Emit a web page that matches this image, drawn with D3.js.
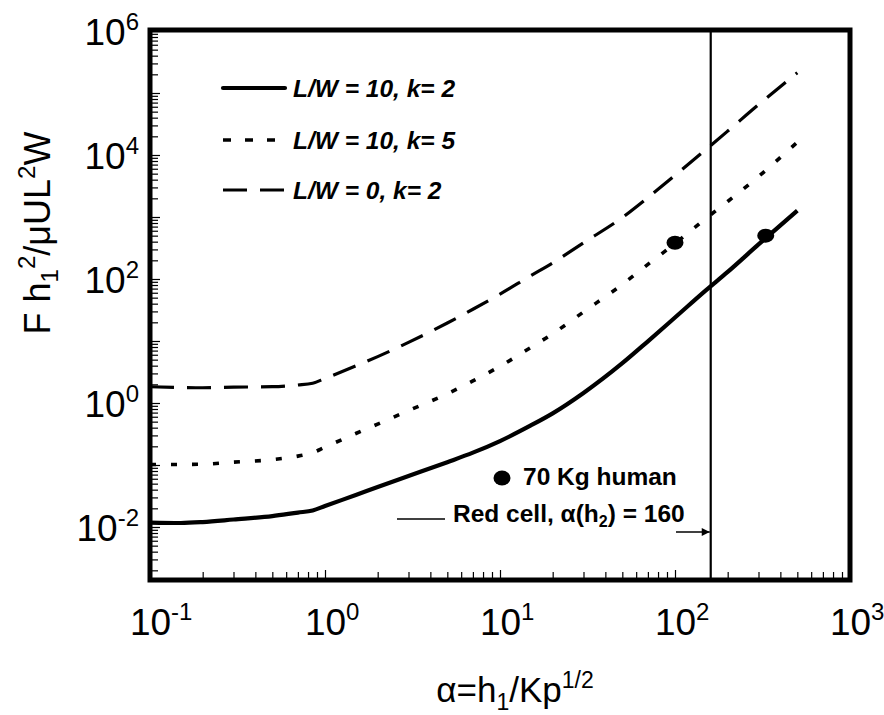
<!DOCTYPE html>
<html>
<head>
<meta charset="utf-8">
<script src="https://cdn.jsdelivr.net/npm/d3@7"></script>
<style>
  body { margin: 0; background: #fff; }
  text { font-family: "Liberation Sans", Arial, Helvetica, sans-serif; fill: #000; }
</style>
</head>
<body>
<svg id="chart" width="884" height="715"></svg>
<script>
// Dimensionless parameter alpha = h1 / Kp^(1/2), shared by all three curves
const alpha = [0.1, 0.15, 0.2, 0.3, 0.5, 0.7, 0.85, 1, 1.5, 2, 3, 5, 7, 10, 15, 20, 30, 50, 70, 100, 150, 200, 300, 500];

// Normalised load F h1^2 / (mu U L^2 W)
const loadLW10k2 = [0.0118, 0.0116, 0.0120, 0.0132, 0.0150, 0.0171, 0.0184, 0.0218, 0.0328, 0.0441, 0.0663, 0.111, 0.158, 0.243, 0.434, 0.680, 1.45, 4.38, 9.89, 23.9, 65.5, 130, 361, 1270];
const loadLW10k5 = [0.102, 0.102, 0.103, 0.111, 0.122, 0.139, 0.158, 0.194, 0.322, 0.456, 0.754, 1.41, 2.27, 3.91, 7.86, 13.1, 29.4, 81.8, 172, 374, 946, 1780, 4490, 16100];
const loadLW0k2  = [1.83, 1.78, 1.76, 1.80, 1.83, 1.95, 2.08, 2.49, 3.96, 5.59, 9.50, 19.5, 32.5, 57.1, 113, 182, 383, 981, 2060, 4710, 12200, 24300, 64800, 212000];

const seriesNames = ["L/W = 10, k= 2", "L/W = 10, k= 5", "L/W = 0, k= 2"];

// 70 kg human operating points
const humanAlpha = [100, 330];
const humanLoad  = [385, 500];

// Red cell, alpha(h2)
const redCellAlpha = 160;

const xTickExponents = [-1, 0, 1, 2, 3];
const yTickExponents = [-2, 0, 2, 4, 6];

const svg = d3.select("#chart");
svg.append("rect").attr("width", 884).attr("height", 715).attr("fill", "#fff");

const plotLeft = 150, plotRight = 850, plotTop = 30, plotBottom = 580;

const x = d3.scaleLog().domain([0.1, 1000]).range([plotLeft, plotRight]);
const y = d3.scaleLog().domain([Math.pow(10, -2.855), Math.pow(10, 6.016)]).range([plotBottom, plotTop]);

// ---- minor / major tick values ----
function logTicks(lo, hi) {
  const major = [], minor = [];
  for (let e = lo; e <= hi; e++) {
    major.push(Math.pow(10, e));
    for (let m = 2; m <= 9; m++) minor.push(m * Math.pow(10, e));
  }
  return { major, minor };
}
const xt = logTicks(-1, 3);
const yt = logTicks(-3, 6);
const inX = v => v >= 0.1 * 0.999 && v <= 1000 * 1.001;
const [yLo, yHi] = y.domain();
const inY = v => v >= yLo && v <= yHi * 1.0001;

function supLabel(sel, fontSize, supSize, centerDigits) {
  sel.each(function (d) {
    const t = d3.select(this);
    const e = Math.round(Math.log10(d));
    t.text(null);
    const base = t.append("tspan").text("10");
    t.append("tspan").attr("dy", "-0.62em").attr("font-size", supSize + "px").text(e);
    if (centerDigits) {
      const w = base.node().getComputedTextLength();
      t.attr("text-anchor", "start").attr("x", -w / 2);
    }
  });
}

// x axis: minor ticks
svg.append("g")
  .attr("transform", `translate(0,${plotBottom})`)
  .call(d3.axisBottom(x).tickValues(xt.minor.filter(inX)).tickSize(-8).tickFormat(""))
  .call(g => g.select(".domain").remove())
  .call(g => g.selectAll("line").attr("stroke", "#000").attr("stroke-width", 1.2));

// x axis: decades with labels
svg.append("g")
  .attr("transform", `translate(0,${plotBottom})`)
  .call(d3.axisBottom(x).tickValues(xTickExponents.map(e => Math.pow(10, e))).tickSize(-10).tickPadding(0))
  .call(g => g.select(".domain").remove())
  .call(g => g.selectAll("line").attr("stroke", "#000").attr("stroke-width", 1.2))
  .call(g => g.selectAll("text")
    .attr("y", 42).attr("dy", "0.36em")
    .attr("font-size", "37px").attr("font-family", "Liberation Sans, Arial, sans-serif")
    .call(supLabel, 37, 24, true));

// y axis: minor ticks
svg.append("g")
  .attr("transform", `translate(${plotLeft},0)`)
  .call(d3.axisLeft(y).tickValues(yt.minor.filter(inY)).tickSize(-8).tickFormat(""))
  .call(g => g.select(".domain").remove())
  .call(g => g.selectAll("line").attr("stroke", "#000").attr("stroke-width", 1.2));

// y axis: decades, labelled every second decade
svg.append("g")
  .attr("transform", `translate(${plotLeft},0)`)
  .call(d3.axisLeft(y).tickValues(yt.major.filter(inY)).tickSize(-10).tickPadding(11)
    .tickFormat(d => yTickExponents.includes(Math.round(Math.log10(d))) ? "10" : ""))
  .call(g => g.select(".domain").remove())
  .call(g => g.selectAll("line").attr("stroke", "#000").attr("stroke-width", 1.2))
  .call(g => g.selectAll("text")
    .filter(d => yTickExponents.includes(Math.round(Math.log10(d))))
    .attr("dy", "0.36em")
    .attr("font-size", "37px").attr("font-family", "Liberation Sans, Arial, sans-serif")
    .call(supLabel, 37, 24, false));

// ---- curves ----
const line = d3.line()
  .x(d => x(d[0]))
  .y(d => y(d[1]))
  .curve(d3.curveMonotoneX);

const curves = [
  { load: loadLW10k2, width: 4.2, dash: null },
  { load: loadLW10k5, width: 3.6, dash: "6,15" },
  { load: loadLW0k2,  width: 3.2, dash: "24,13" }
];

const plot = svg.append("g");
curves.forEach(c => {
  plot.append("path")
    .datum(alpha.map((a, i) => [a, c.load[i]]))
    .attr("d", line)
    .attr("fill", "none")
    .attr("stroke", "#000")
    .attr("stroke-width", c.width)
    .attr("stroke-dasharray", c.dash);
});

// red cell line
plot.append("line")
  .attr("x1", x(redCellAlpha)).attr("x2", x(redCellAlpha))
  .attr("y1", plotTop).attr("y2", plotBottom)
  .attr("stroke", "#000").attr("stroke-width", 2.2);

// human points
plot.selectAll("ellipse.human")
  .data(humanAlpha.map((a, i) => [a, humanLoad[i]]))
  .join("ellipse")
  .attr("class", "human")
  .attr("cx", d => x(d[0])).attr("cy", d => y(d[1]))
  .attr("rx", 8.5).attr("ry", 7).attr("fill", "#000");

// ---- frame ----
svg.append("rect")
  .attr("x", plotLeft).attr("y", plotTop)
  .attr("width", plotRight - plotLeft).attr("height", plotBottom - plotTop)
  .attr("fill", "none").attr("stroke", "#000").attr("stroke-width", 5);

// ---- legend ----
const legend = svg.append("g");
const legRows = [88, 140, 190];
curves.forEach((c, i) => {
  legend.append("line")
    .attr("x1", 223).attr("x2", i === 1 ? 276 : 285)
    .attr("y1", legRows[i]).attr("y2", legRows[i])
    .attr("stroke", "#000").attr("stroke-width", c.width)
    .attr("stroke-dasharray", i === 1 ? "8,14" : c.dash)
    .attr("stroke-linecap", i === 0 ? "round" : "butt");
  legend.append("text")
    .attr("x", 293).attr("y", legRows[i] + 8.5)
    .attr("font-size", "24.5px").attr("font-weight", "bold").attr("font-style", "italic")
    .text(seriesNames[i]);
});

// ---- annotations ----
const ann = svg.append("g");
ann.append("ellipse").attr("cx", 502).attr("cy", 478).attr("rx", 8.5).attr("ry", 7.5).attr("fill", "#000");
ann.append("text").attr("x", 523).attr("y", 485)
  .attr("font-size", "24.5px").attr("font-weight", "bold").text("70 Kg human");

ann.append("line").attr("x1", 397).attr("x2", 445).attr("y1", 519).attr("y2", 519)
  .attr("stroke", "#000").attr("stroke-width", 1.5);
const rc = ann.append("text").attr("x", 453).attr("y", 522)
  .attr("font-size", "24.5px").attr("font-weight", "bold");
rc.append("tspan").text("Red cell, α(h");
rc.append("tspan").attr("font-size", "16px").attr("dy", "5").text("2");
rc.append("tspan").attr("dy", "-5").text(") = 160");

svg.append("defs").append("marker")
  .attr("id", "arrow").attr("viewBox", "0 0 10 10")
  .attr("refX", 10).attr("refY", 5)
  .attr("markerWidth", 10).attr("markerHeight", 8)
  .attr("markerUnits", "userSpaceOnUse")
  .attr("orient", "auto")
  .append("path").attr("d", "M0,0 L10,5 L0,10 z").attr("fill", "#000");
ann.append("line")
  .attr("x1", 676).attr("x2", x(redCellAlpha) - 1)
  .attr("y1", 532).attr("y2", 532)
  .attr("stroke", "#000").attr("stroke-width", 1.5)
  .attr("marker-end", "url(#arrow)");

// ---- axis titles ----
const xTitle = svg.append("text")
  .attr("x", 515).attr("y", 702)
  .attr("text-anchor", "middle").attr("font-size", "35px");
xTitle.append("tspan").text("α=h");
xTitle.append("tspan").attr("font-size", "23px").attr("dy", "8").text("1");
xTitle.append("tspan").attr("dy", "-8").text("/Kp");
xTitle.append("tspan").attr("font-size", "23px").attr("dy", "-14").text("1/2");

const yTitle = svg.append("text")
  .attr("transform", "translate(50,233) rotate(-90)")
  .attr("text-anchor", "middle").attr("font-size", "36px");
yTitle.append("tspan").text("F h");
yTitle.append("tspan").attr("font-size", "24px").attr("dy", "8").text("1");
yTitle.append("tspan").attr("font-size", "24px").attr("dy", "-23").text("2");
yTitle.append("tspan").attr("dy", "15").text("/μUL");
yTitle.append("tspan").attr("font-size", "24px").attr("dy", "-15").text("2");
yTitle.append("tspan").attr("dy", "15").text("W");
</script>
</body>
</html>
